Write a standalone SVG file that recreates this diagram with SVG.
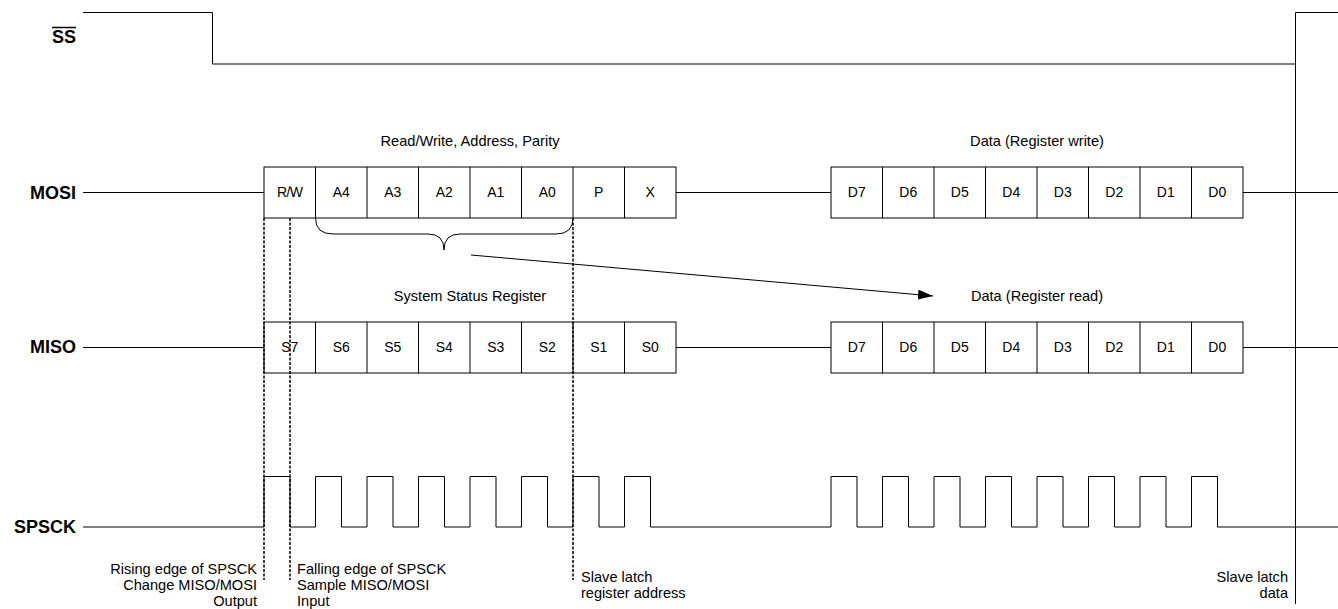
<svg xmlns="http://www.w3.org/2000/svg" width="1338" height="609" viewBox="0 0 1338 609">
<style>
text{font-family:"Liberation Sans",Arial,sans-serif;fill:#000}
.sig{font-size:18px;font-weight:bold;text-anchor:end}
.bx{font-size:14px;text-anchor:middle}
.lbl{font-size:14.6px}
.mid{text-anchor:middle}
.end{text-anchor:end}
.w{fill:none;stroke:#000;stroke-width:1}
.box{fill:#fff;stroke:#000;stroke-width:1}
.dash{fill:none;stroke:#000;stroke-width:1.5;stroke-dasharray:3,1.5}
</style>
<defs>
<marker id="ah" markerUnits="userSpaceOnUse" markerWidth="16" markerHeight="10" refX="15" refY="5" orient="auto">
<path d="M0,0 L15,5 L0,10 Z" fill="#000"/>
</marker>
</defs>
<rect width="1338" height="609" fill="#fff"/>

<g id="ss">
<text class="sig" x="76" y="43">SS</text>
<line x1="52" y1="27.5" x2="76" y2="27.5" stroke="#000" stroke-width="1.5"/>
<path class="w" d="M83,12.5 H212.5 V64 H1295.5 V12.5 H1338"/>
</g>

<g id="latch-line">
<line class="w" x1="1295.5" y1="64" x2="1295.5" y2="604"/>
</g>

<g id="mosi">
<text class="sig" x="76" y="198.5">MOSI</text>
<path class="w" d="M83,192.5 H264 M676,192.5 H831 M1243,192.5 H1338"/>
<text class="lbl mid" x="470" y="146">Read/Write, Address, Parity</text>
<text class="lbl mid" x="1037" y="146">Data (Register write)</text>
</g>
<g id="mosi-cmd">
<rect class="box" x="264" y="167" width="412" height="51"/>
<path class="w" d="M315.5,167V218 M367,167V218 M418.5,167V218 M470,167V218 M521.5,167V218 M573,167V218 M624.5,167V218"/>
<text class="bx" x="289.75" y="197" letter-spacing="-0.6">R/W</text>
<text class="bx" x="341.25" y="197">A4</text>
<text class="bx" x="392.75" y="197">A3</text>
<text class="bx" x="444.25" y="197">A2</text>
<text class="bx" x="495.75" y="197">A1</text>
<text class="bx" x="547.25" y="197">A0</text>
<text class="bx" x="598.75" y="197">P</text>
<text class="bx" x="650.25" y="197">X</text>
</g>
<g id="mosi-data">
<rect class="box" x="831" y="167" width="412" height="51"/>
<path class="w" d="M882.5,167V218 M934,167V218 M985.5,167V218 M1037,167V218 M1088.5,167V218 M1140,167V218 M1191.5,167V218"/>
<text class="bx" x="856.75" y="197">D7</text>
<text class="bx" x="908.25" y="197">D6</text>
<text class="bx" x="959.75" y="197">D5</text>
<text class="bx" x="1011.25" y="197">D4</text>
<text class="bx" x="1062.75" y="197">D3</text>
<text class="bx" x="1114.25" y="197">D2</text>
<text class="bx" x="1165.75" y="197">D1</text>
<text class="bx" x="1217.25" y="197">D0</text>
</g>

<g id="brace">
<path class="w" d="M315.5,218 Q315.5,234 333,234 H428 Q444,234 444,250 Q444,234 460,234 H556 Q573,234 573,218"/>
</g>

<g id="miso">
<text class="sig" x="76" y="353">MISO</text>
<path class="w" d="M83,347.5 H264 M676,347.5 H831 M1243,347.5 H1338"/>
<text class="lbl mid" x="470" y="301">System Status Register</text>
<text class="lbl mid" x="1037" y="301">Data (Register read)</text>
</g>
<g id="miso-status">
<rect class="box" x="264" y="322" width="412" height="51"/>
<path class="w" d="M315.5,322V373 M367,322V373 M418.5,322V373 M470,322V373 M521.5,322V373 M573,322V373 M624.5,322V373"/>
<text class="bx" x="289.75" y="352">S7</text>
<text class="bx" x="341.25" y="352">S6</text>
<text class="bx" x="392.75" y="352">S5</text>
<text class="bx" x="444.25" y="352">S4</text>
<text class="bx" x="495.75" y="352">S3</text>
<text class="bx" x="547.25" y="352">S2</text>
<text class="bx" x="598.75" y="352">S1</text>
<text class="bx" x="650.25" y="352">S0</text>
</g>
<g id="miso-data">
<rect class="box" x="831" y="322" width="412" height="51"/>
<path class="w" d="M882.5,322V373 M934,322V373 M985.5,322V373 M1037,322V373 M1088.5,322V373 M1140,322V373 M1191.5,322V373"/>
<text class="bx" x="856.75" y="352">D7</text>
<text class="bx" x="908.25" y="352">D6</text>
<text class="bx" x="959.75" y="352">D5</text>
<text class="bx" x="1011.25" y="352">D4</text>
<text class="bx" x="1062.75" y="352">D3</text>
<text class="bx" x="1114.25" y="352">D2</text>
<text class="bx" x="1165.75" y="352">D1</text>
<text class="bx" x="1217.25" y="352">D0</text>
</g>

<g id="spsck">
<text class="sig" x="76" y="533">SPSCK</text>
<path class="w" d="M83,527 H264 V476.5 H290 V527 H315.5 V476.5 H341.5 V527 H367 V476.5 H393 V527 H418.5 V476.5 H444.5 V527 H470 V476.5 H496 V527 H521.5 V476.5 H547.5 V527 H573 V476.5 H599 V527 H624.5 V476.5 H650.5 V527 H831 V476.5 H857 V527 H882.5 V476.5 H908.5 V527 H934 V476.5 H960 V527 H985.5 V476.5 H1011.5 V527 H1037 V476.5 H1063 V527 H1088.5 V476.5 H1114.5 V527 H1140 V476.5 H1166 V527 H1191.5 V476.5 H1217.5 V527 H1338"/>
</g>

<g id="markers">
<line class="dash" x1="264" y1="218" x2="264" y2="580"/>
<line class="dash" x1="290" y1="218" x2="290" y2="580"/>
<line class="dash" x1="573" y1="218" x2="573" y2="580"/>
</g>

<g id="note-rising">
<text class="lbl end" x="257" y="574">Rising edge of SPSCK</text>
<text class="lbl end" x="257" y="590">Change MISO/MOSI</text>
<text class="lbl end" x="257" y="606">Output</text>
</g>
<g id="note-falling">
<text class="lbl" x="297" y="574">Falling edge of SPSCK</text>
<text class="lbl" x="297" y="590">Sample MISO/MOSI</text>
<text class="lbl" x="297" y="606">Input</text>
</g>
<g id="note-addr">
<text class="lbl" x="581" y="582">Slave latch</text>
<text class="lbl" x="581" y="598">register address</text>
</g>
<g id="note-data">
<text class="lbl end" x="1288" y="582">Slave latch</text>
<text class="lbl end" x="1288" y="598">data</text>
</g>

<g id="connectors">
<line class="w" x1="471" y1="255" x2="933" y2="296" marker-end="url(#ah)"/>
</g>
</svg>
